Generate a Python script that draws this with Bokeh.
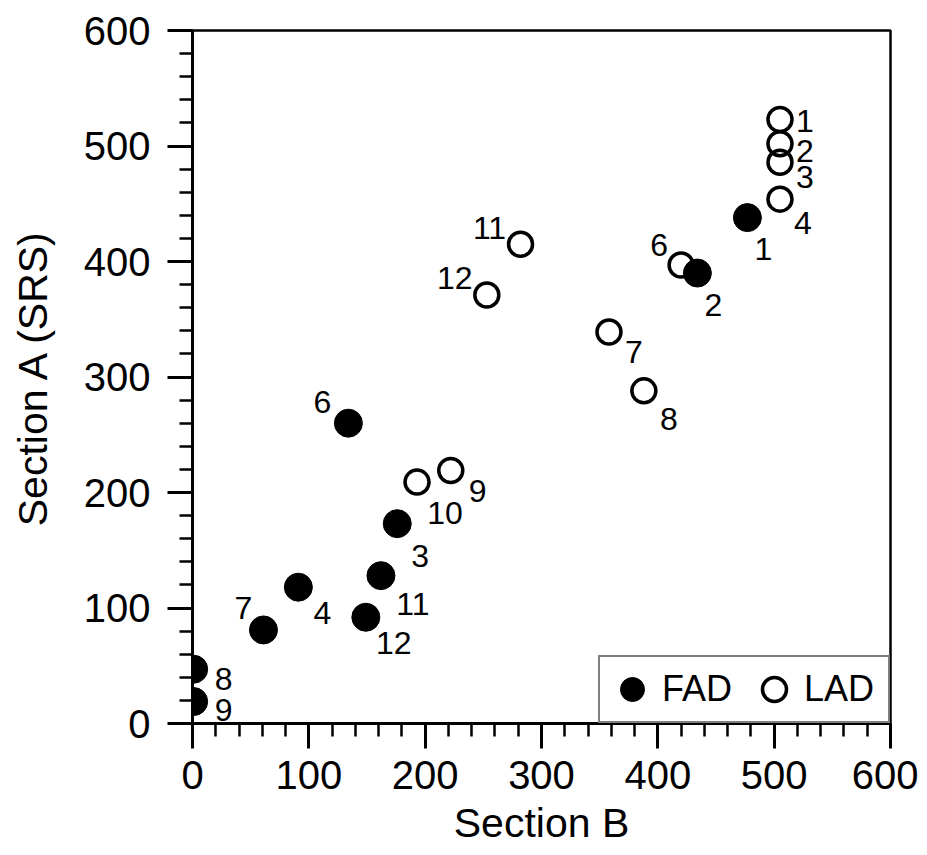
from bokeh.plotting import figure
from bokeh.models import ColumnDataSource, SingleIntervalTicker, Range1d, Legend, LegendItem
from bokeh.core.properties import value
from bokeh.embed import file_html
from bokeh.resources import INLINE

# ---- data ----
fad_labels = ["1", "2", "3", "4", "6", "7", "8", "9", "11", "12"]
fad_x = [477, 434, 176, 91, 134, 61, 1, 1, 162, 149]
fad_y = [438, 390, 173, 118, 260, 81, 47, 19, 128, 92]

lad_labels = ["1", "2", "3", "4", "6", "7", "8", "9", "10", "11", "12"]
lad_x = [505, 505, 505, 505, 420, 358, 388, 222, 193, 282, 253]
lad_y = [523, 502, 486, 454, 397, 339, 288, 219, 209, 415, 371]

x_ticks_interval = 100
y_ticks_interval = 100

# ---- label placement (screen pixel offsets, style only) ----
fad_dx = [16, 16, 23, 24, -26, -20, 30, 30, 32, 28]
fad_dy = [31, 32, 32, 26, -21, -22, 10, 8, 28, 26]
lad_dx = [25, 25, 25, 23, -22, 25, 25, 27, 28, -31, -32]
lad_dy = [2, 7, 15, 24, -20, 20, 28, 20, 31, -16, -17]

FONT = "Liberation Sans"

fad_src = ColumnDataSource(dict(x=fad_x, y=fad_y, t=fad_labels, dx=fad_dx, dy=fad_dy))
lad_src = ColumnDataSource(dict(x=lad_x, y=lad_y, t=lad_labels, dx=lad_dx, dy=lad_dy))

p = figure(frame_width=698, frame_height=693,
           x_range=Range1d(0, 600), y_range=Range1d(0, 600),
           output_backend="svg", toolbar_location=None,
           min_border_left=192, min_border_top=30, min_border_right=28, min_border_bottom=125)

p.background_fill_color = "white"
p.border_fill_color = "white"
p.grid.visible = False
p.outline_line_color = "black"
p.outline_line_width = 2.5
p.outline_line_alpha = 1

for ax in (p.xaxis[0], p.yaxis[0]):
    ax.axis_line_width = 3
    ax.axis_line_color = "black"
    ax.major_tick_line_width = 3
    ax.minor_tick_line_width = 2.5
    ax.major_tick_line_color = "black"
    ax.minor_tick_line_color = "black"
    ax.major_tick_out = 25
    ax.major_tick_in = 0
    ax.minor_tick_out = 13
    ax.minor_tick_in = 0
    ax.major_label_text_font = FONT
    ax.major_label_text_font_size = "40px"
    ax.major_label_text_color = "black"
    ax.axis_label_text_font = FONT
    ax.axis_label_text_font_size = "41px"
    ax.axis_label_text_font_style = "normal"
    ax.axis_label_text_color = "black"

p.xaxis[0].ticker = SingleIntervalTicker(interval=x_ticks_interval, num_minor_ticks=5)
p.yaxis[0].ticker = SingleIntervalTicker(interval=y_ticks_interval, num_minor_ticks=5)
p.xaxis[0].axis_label = "Section B"
p.yaxis[0].axis_label = "Section A (SRS)"
p.xaxis[0].major_label_standoff = 12
p.xaxis[0].axis_label_standoff = 8
p.yaxis[0].major_label_standoff = 17
p.yaxis[0].axis_label_standoff = 25

lad_r = p.scatter("x", "y", source=lad_src, marker="circle", size=24,
                  fill_alpha=0, line_color="black", line_width=3.5)
fad_r = p.scatter("x", "y", source=fad_src, marker="circle", size=28,
                  fill_color="black", line_color="black", line_width=1)

for src in (lad_src, fad_src):
    p.text("x", "y", text="t", source=src, x_offset="dx", y_offset="dy",
           text_font=value(FONT), text_font_size="32px", text_color="black",
           text_align="center", text_baseline="middle")

legend = Legend(items=[LegendItem(label="FAD", renderers=[fad_r]),
                       LegendItem(label="LAD", renderers=[lad_r])],
                location="bottom_right", orientation="horizontal",
                glyph_width=60, glyph_height=60, label_standoff=0,
                label_width=82, spacing=0, padding=2, margin=0,
                label_text_font=FONT, label_text_font_size="36px",
                label_text_color="black",
                border_line_color="black", border_line_width=2.5,
                background_fill_color="white", background_fill_alpha=1)
p.add_layout(legend)

open("out.html", "w").write(file_html(p, INLINE))
